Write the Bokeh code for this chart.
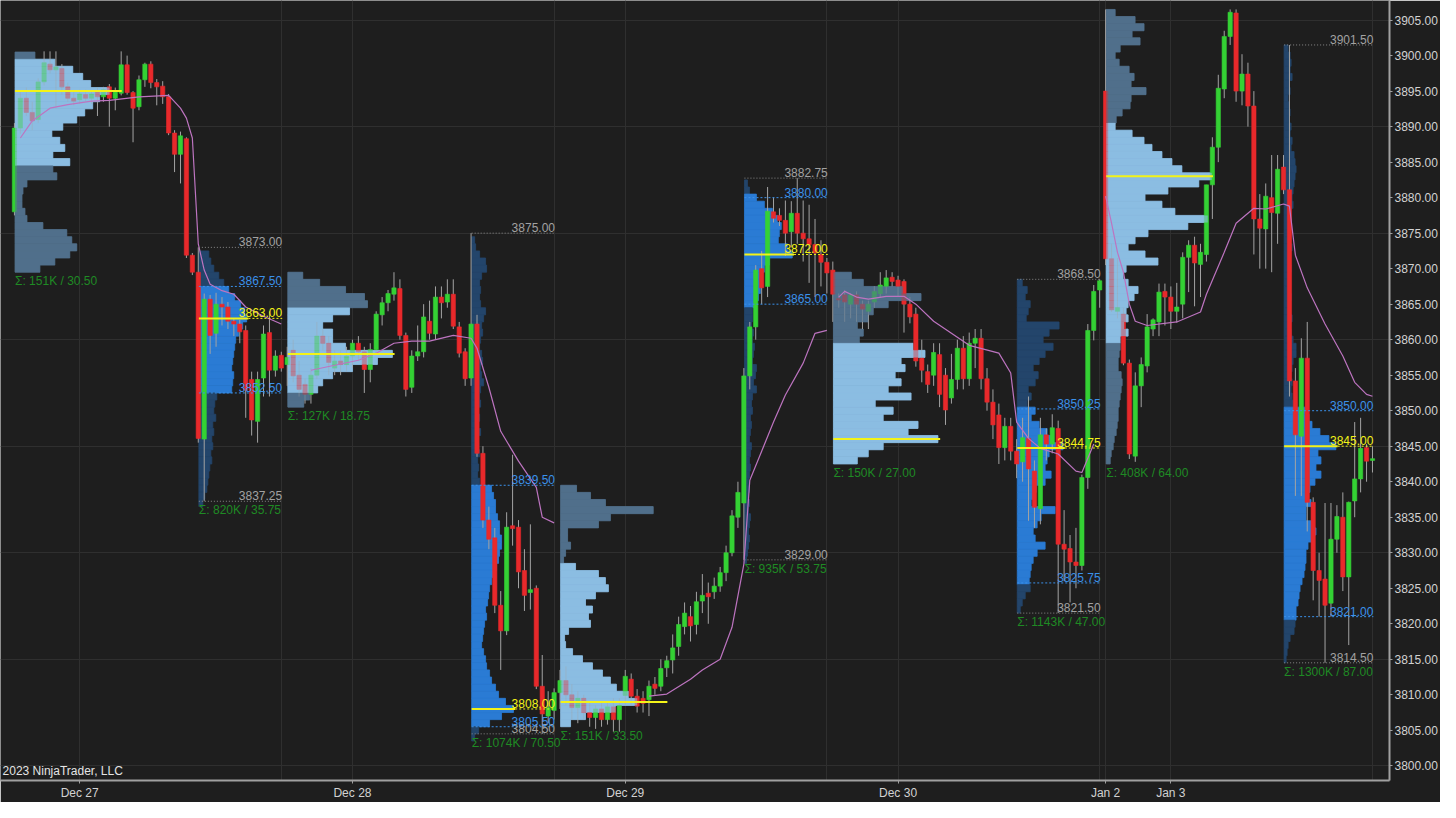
import numpy as np
from bokeh.plotting import figure
from bokeh.models import FixedTicker, SingleIntervalTicker, NumeralTickFormatter, Label, Range1d
from bokeh.core.properties import value
from bokeh.embed import file_html
from bokeh.resources import INLINE

FONT = "Liberation Sans"

# ---------------- candles (open, high, low, close), 30-minute bars ----------------
eth_dec27 = [
    (3878.0, 3890.5, 3877.5, 3889.8), (3889.8, 3895.0, 3889.0, 3894.0), (3894.0, 3895.5, 3891.5, 3892.0),
    (3892.0, 3893.5, 3889.5, 3890.8), (3891.0, 3896.8, 3890.5, 3896.3), (3896.3, 3900.6, 3895.8, 3899.0),
    (3898.8, 3900.6, 3897.5, 3898.0), (3898.0, 3900.6, 3892.6, 3898.4), (3898.2, 3898.8, 3894.5, 3895.6),
    (3895.6, 3896.2, 3893.5, 3894.0), (3894.0, 3895.0, 3893.0, 3893.6), (3893.8, 3895.2, 3893.2, 3894.6),
    (3894.5, 3895.2, 3893.6, 3894.0), (3894.0, 3895.0, 3893.2, 3894.6), (3895.0, 3895.5, 3891.5, 3894.2),
    (3894.2, 3895.6, 3893.5, 3895.2), (3895.6, 3896.0, 3890.0, 3894.0), (3894.0, 3895.5, 3892.3, 3895.0),
    (3894.7, 3900.6, 3894.4, 3898.7), (3898.7, 3900.0, 3894.5, 3894.8), (3894.8, 3895.0, 3887.8, 3892.6),
    (3892.8, 3897.2, 3892.3, 3896.6), (3896.6, 3899.0, 3895.6, 3898.8), (3898.8, 3899.2, 3895.4, 3896.2),
    (3896.2, 3896.7, 3893.0, 3895.6), (3895.7, 3896.4, 3893.2, 3894.2), (3894.2, 3894.6, 3888.8, 3889.1),
    (3889.1, 3889.5, 3883.6, 3886.1), (3886.1, 3889.3, 3882.0, 3888.7), (3888.3, 3888.5, 3871.5, 3871.9),
    (3871.9, 3872.2, 3869.1, 3869.5)]
rth_dec27 = [
    (3869.5, 3873.0, 3845.5, 3846.1), (3846.0, 3866.5, 3837.25, 3865.7), (3865.7, 3866.3, 3858.0, 3860.6),
    (3860.9, 3866.6, 3859.0, 3865.0), (3865.0, 3866.0, 3862.0, 3864.6), (3864.6, 3865.3, 3861.5, 3862.6),
    (3862.6, 3863.0, 3860.5, 3862.2), (3862.2, 3862.8, 3859.5, 3861.1), (3861.3, 3862.0, 3849.0, 3852.9),
    (3854.4, 3855.5, 3846.5, 3848.7), (3848.5, 3855.5, 3845.5, 3854.4), (3854.6, 3862.0, 3852.0, 3860.8),
    (3861.0, 3864.0, 3852.0, 3855.7), (3855.7, 3858.5, 3854.8, 3857.7), (3857.8, 3858.3, 3855.5, 3856.0)]
eth_dec28 = [
    (3856.5, 3859.0, 3853.5, 3857.5), (3858.5, 3860.0, 3854.0, 3854.9), (3855.0, 3857.0, 3852.0, 3853.0),
    (3853.7, 3854.5, 3851.0, 3852.3), (3852.3, 3856.0, 3851.0, 3855.0), (3855.0, 3862.5, 3854.5, 3860.5),
    (3860.5, 3861.5, 3858.5, 3859.5), (3859.5, 3860.5, 3855.0, 3856.8), (3856.0, 3858.5, 3855.0, 3857.0),
    (3857.0, 3858.5, 3855.0, 3856.5), (3856.5, 3859.0, 3855.5, 3857.7), (3857.7, 3860.0, 3856.0, 3859.5),
    (3859.5, 3860.5, 3857.0, 3858.3), (3858.3, 3859.0, 3852.5, 3855.8), (3855.8, 3859.5, 3854.0, 3858.6),
    (3858.6, 3864.0, 3858.0, 3863.6), (3863.5, 3866.0, 3862.0, 3865.2), (3865.2, 3867.0, 3864.0, 3866.5),
    (3866.4, 3869.5, 3865.5, 3867.3), (3867.2, 3868.5, 3860.0, 3860.6), (3860.6, 3861.0, 3852.0, 3853.0),
    (3853.3, 3858.5, 3852.5, 3857.7), (3857.7, 3862.0, 3857.0, 3858.3), (3858.3, 3865.0, 3857.5, 3863.2),
    (3862.6, 3865.5, 3860.0, 3860.9), (3860.8, 3867.5, 3860.0, 3866.0), (3866.0, 3867.5, 3863.0, 3865.2),
    (3865.3, 3868.5, 3864.5, 3866.4), (3866.4, 3868.5, 3861.5, 3861.9), (3861.8, 3862.5, 3857.5, 3858.1),
    (3858.3, 3858.8, 3853.5, 3854.5)]
rth_dec28 = [
    (3854.6, 3875.0, 3853.5, 3862.2), (3862.2, 3863.5, 3843.5, 3844.0), (3844.0, 3845.0, 3833.5, 3834.6),
    (3834.6, 3836.5, 3830.5, 3831.9), (3832.1, 3833.5, 3821.5, 3822.6), (3822.6, 3824.6, 3813.5, 3819.0),
    (3819.0, 3835.7, 3818.4, 3833.6), (3833.8, 3843.8, 3831.0, 3833.4), (3833.6, 3834.6, 3825.0, 3827.3),
    (3827.5, 3830.5, 3821.8, 3824.0), (3824.4, 3834.0, 3822.0, 3824.8), (3825.0, 3825.4, 3810.8, 3811.2),
    (3811.2, 3815.6, 3804.5, 3807.3), (3807.0, 3810.5, 3806.0, 3808.2), (3807.8, 3810.9, 3806.5, 3810.3)]
eth_dec29 = [
    (3810.3, 3813.5, 3808.0, 3812.0), (3812.0, 3814.0, 3808.5, 3810.0), (3810.0, 3811.5, 3806.5, 3808.2),
    (3808.2, 3810.5, 3806.0, 3809.5), (3809.5, 3810.0, 3806.5, 3807.5), (3807.5, 3809.0, 3805.5, 3806.8),
    (3806.8, 3808.5, 3805.2, 3808.0), (3808.0, 3809.0, 3805.5, 3806.5), (3806.5, 3809.0, 3805.8, 3808.3),
    (3808.3, 3809.5, 3804.8, 3806.5), (3806.5, 3809.5, 3804.8, 3808.5), (3809.9, 3813.5, 3808.5, 3812.6),
    (3812.2, 3813.0, 3808.5, 3809.8), (3809.8, 3810.8, 3807.5, 3808.4), (3809.5, 3810.5, 3807.5, 3808.8),
    (3809.3, 3812.0, 3807.0, 3811.2), (3811.5, 3812.5, 3810.0, 3810.9), (3811.2, 3815.0, 3810.5, 3813.7),
    (3813.8, 3815.5, 3812.5, 3814.8), (3814.9, 3818.5, 3813.0, 3816.6), (3816.8, 3821.0, 3815.5, 3819.9),
    (3819.6, 3823.0, 3818.5, 3821.5), (3821.0, 3822.5, 3817.5, 3819.7), (3819.9, 3824.5, 3818.5, 3823.1),
    (3823.2, 3827.0, 3821.5, 3824.0), (3824.3, 3825.8, 3820.0, 3823.8), (3824.5, 3826.5, 3823.5, 3825.3),
    (3825.3, 3828.0, 3824.5, 3827.2), (3827.2, 3831.0, 3826.0, 3830.0), (3830.0, 3836.0, 3829.5, 3835.2),
    (3835.0, 3840.0, 3833.5, 3838.5)]
rth_dec29 = [
    (3837.0, 3856.0, 3829.0, 3854.9), (3854.9, 3862.5, 3853.0, 3861.8), (3861.8, 3870.5, 3860.0, 3869.8),
    (3870.0, 3872.5, 3865.0, 3867.3), (3867.5, 3881.5, 3866.0, 3878.1), (3878.0, 3880.0, 3876.5, 3877.1),
    (3877.5, 3878.5, 3876.0, 3876.8), (3876.8, 3879.6, 3871.8, 3875.0), (3875.2, 3879.5, 3873.0, 3877.8),
    (3877.8, 3882.75, 3873.5, 3875.0), (3875.0, 3879.6, 3871.0, 3874.2), (3874.2, 3879.0, 3868.0, 3873.4),
    (3873.4, 3877.0, 3866.0, 3872.2), (3872.0, 3874.0, 3867.5, 3870.9), (3870.9, 3871.5, 3866.5, 3869.4)]
eth_dec30 = [
    (3869.8, 3871.0, 3862.5, 3866.4), (3865.8, 3866.5, 3864.5, 3865.6), (3866.3, 3867.0, 3862.5, 3865.3),
    (3865.0, 3866.5, 3863.0, 3866.3), (3866.3, 3866.8, 3862.5, 3865.0), (3865.0, 3865.5, 3861.5, 3864.3),
    (3864.0, 3865.5, 3861.5, 3865.0), (3865.3, 3867.5, 3864.5, 3866.8), (3866.5, 3869.5, 3866.0, 3867.7),
    (3867.5, 3869.8, 3866.5, 3868.7), (3868.8, 3869.5, 3867.5, 3868.2), (3868.4, 3869.0, 3866.0, 3867.5),
    (3868.2, 3868.5, 3861.0, 3865.0), (3865.0, 3866.0, 3862.3, 3863.2), (3863.6, 3864.5, 3856.2, 3857.0),
    (3857.4, 3860.0, 3854.0, 3855.7), (3855.5, 3856.5, 3852.5, 3853.7), (3855.0, 3859.5, 3853.5, 3858.2),
    (3857.9, 3859.5, 3850.5, 3852.3), (3855.0, 3856.0, 3848.0, 3850.1), (3851.8, 3858.0, 3851.0, 3854.4),
    (3854.4, 3860.0, 3853.0, 3858.8), (3858.8, 3860.5, 3853.0, 3854.5), (3854.5, 3861.0, 3853.5, 3859.5),
    (3859.5, 3861.5, 3856.0, 3860.2), (3860.2, 3861.5, 3853.0, 3854.5), (3854.5, 3856.0, 3850.0, 3851.2),
    (3851.2, 3853.0, 3846.0, 3848.0), (3849.4, 3851.0, 3842.5, 3844.8), (3844.8, 3849.0, 3843.0, 3847.8),
    (3847.8, 3849.0, 3843.0, 3844.3)]
rth_dec30 = [
    (3844.3, 3846.0, 3840.5, 3842.5), (3842.8, 3849.0, 3840.0, 3846.2), (3846.1, 3852.0, 3834.5, 3841.8),
    (3841.5, 3843.0, 3833.5, 3836.4), (3836.2, 3849.0, 3834.0, 3846.6), (3846.6, 3847.5, 3843.0, 3845.3),
    (3845.3, 3849.5, 3844.0, 3847.6), (3847.5, 3848.6, 3821.5, 3831.2), (3831.2, 3836.0, 3826.0, 3830.5),
    (3830.6, 3832.5, 3823.0, 3828.7), (3828.7, 3833.5, 3825.0, 3828.2), (3828.2, 3841.0, 3827.5, 3840.6),
    (3840.6, 3862.2, 3839.0, 3861.3), (3861.3, 3867.7, 3859.9, 3866.8), (3867.0, 3868.5, 3864.5, 3868.3)]
eth_jan03 = [
    (3895.0, 3906.5, 3870.5, 3871.4), (3871.4, 3873.5, 3863.9, 3864.2), (3864.0, 3871.5, 3863.0, 3864.5),
    (3863.6, 3864.5, 3856.4, 3856.7), (3856.7, 3857.2, 3843.2, 3843.9), (3843.6, 3855.4, 3842.8, 3853.5),
    (3853.5, 3857.5, 3850.5, 3856.5), (3856.3, 3863.6, 3855.4, 3861.8), (3861.5, 3863.0, 3860.5, 3862.8),
    (3862.5, 3867.9, 3860.5, 3866.7), (3866.8, 3867.9, 3862.0, 3866.0), (3866.0, 3867.5, 3861.5, 3864.0),
    (3864.0, 3868.0, 3862.4, 3864.6), (3865.0, 3872.3, 3863.0, 3871.6), (3871.6, 3874.0, 3866.7, 3873.3),
    (3873.3, 3874.5, 3864.7, 3870.8), (3870.6, 3873.5, 3866.0, 3872.3), (3872.0, 3881.8, 3871.0, 3881.8),
    (3881.8, 3888.5, 3877.0, 3887.1), (3887.1, 3897.3, 3885.0, 3895.4), (3895.3, 3903.5, 3894.0, 3902.7),
    (3902.7, 3906.5, 3901.5, 3906.1), (3906.0, 3906.5, 3893.5, 3895.0), (3895.0, 3900.2, 3893.0, 3897.4),
    (3897.4, 3899.0, 3890.0, 3892.9), (3892.9, 3895.0, 3872.0, 3877.0), (3877.0, 3880.5, 3870.0, 3875.7),
    (3875.6, 3882.0, 3870.0, 3880.2), (3880.0, 3886.0, 3869.5, 3877.9), (3877.8, 3886.0, 3873.5, 3884.0)]
rth_jan03 = [
    (3884.3, 3886.0, 3880.5, 3881.1), (3881.1, 3901.5, 3852.0, 3854.2), (3854.2, 3856.0, 3838.0, 3846.6),
    (3846.4, 3860.2, 3838.0, 3857.4), (3857.4, 3862.5, 3833.0, 3837.1), (3837.1, 3837.8, 3823.3, 3827.5),
    (3827.5, 3830.0, 3821.0, 3826.1), (3826.3, 3837.0, 3814.5, 3822.6), (3822.9, 3837.0, 3821.0, 3831.9),
    (3831.9, 3836.7, 3830.0, 3835.1), (3835.0, 3838.5, 3824.6, 3826.6), (3826.6, 3837.2, 3817.0, 3837.1),
    (3837.3, 3848.4, 3835.0, 3840.4), (3840.4, 3849.0, 3838.5, 3844.7), (3844.8, 3845.3, 3840.0, 3842.9),
    (3843.0, 3845.0, 3841.3, 3843.25)]

# ---------------- volume profiles: top price level, volumes from top down (1-pt rows) ----------------
prof_eth_dec27 = (3900, [20, 40, 58, 68, 76, 95, 85, 78, 70, 62, 48, 37, 45, 50, 38, 55, 38, 42, 12, 8, 7, 7, 10,
                         12, 28, 52, 57, 62, 55, 40, 25])
prof_rth_dec27 = (3872, [10, 12, 15, 20, 25, 30, 36, 42, 46, 48, 44, 40, 37, 36, 35, 34, 33, 35, 34, 33,
                         18, 16, 15, 17, 14, 15, 13, 14, 12, 13, 11, 10, 9, 8, 6, 4])
prof_eth_dec28 = (3869, [15, 32, 58, 77, 80, 62, 45, 35, 45, 45, 58, 105, 90, 65, 45, 35, 30, 22, 16])
prof_rth_dec28 = (3874, [3, 4, 8, 14, 15, 10, 8, 9, 8, 9, 14, 12, 10, 11, 9, 8, 10, 11, 9, 10, 12, 9, 8, 9, 7, 8,
                         7, 9, 6, 7, 8, 6, 7, 6, 8,
                         20, 22, 24, 24, 26, 28, 28, 30, 30, 28, 27, 25, 23, 20, 18, 17, 16, 14, 15, 13, 12, 11,
                         10, 12, 14, 15, 18, 20, 24, 27, 34, 42, 30, 18, 7, 3])
prof_eth_dec29 = (3839, [16, 30, 45, 93, 50, 38, 7, 7, 10, 5, 3, 15, 38, 45, 48, 35, 25, 32, 28, 30, 8, 4, 5, 12,
                         22, 32, 42, 50, 56, 68, 77, 55, 25, 10])
prof_rth_dec29 = (3882, [3, 5, 12, 20, 28, 33, 37, 35, 34, 43, 48, 25, 20, 18, 17, 16, 14, 12,
                         8, 8, 7, 9, 8, 10, 9, 8, 12, 11, 9, 12, 8, 7, 8, 6, 7, 6, 5, 7, 6, 5, 6, 5, 4, 5, 4, 5,
                         4, 6, 5, 4, 5, 4, 3, 2])
prof_eth_dec30 = (3869, [18, 30, 70, 88, 55, 40, 35, 24, 30, 26, 80, 92, 68, 72, 62, 68, 55, 78, 42, 60, 50, 85,
                         75, 105, 50, 35, 24])
prof_rth_dec30 = (3868, [5, 10, 8, 13, 11, 9, 42, 32, 26, 36, 28, 22, 16, 21, 18, 11, 14, 10,
                         18, 14, 22, 30, 36, 46, 32, 30, 28, 34, 28, 19, 16, 14, 38, 24, 20, 16, 18, 28, 20, 16,
                         14, 13, 12, 13, 8, 5, 3])
prof_eth_jan03 = (3906, [9, 29, 38, 26, 34, 14, 9, 13, 23, 28, 25, 40, 25, 24, 16, 10, 9,
                         26, 38, 46, 56, 66, 76, 106, 93, 62, 39, 56, 69, 102, 82, 42, 29, 22, 39, 52, 20, 17, 22,
                         32, 28, 22, 20, 22, 18, 22, 14,
                         14, 13, 12, 12, 15, 16, 15, 14, 13, 12, 12, 11, 10, 8, 7, 5, 4])
prof_rth_jan03 = (3901, [4, 6, 7, 6, 8, 5, 6, 4, 5, 6, 5, 7, 6, 8, 7, 10, 11, 12, 11, 10, 9, 8, 9, 7, 6, 7, 5, 6,
                         8, 6, 5, 7, 6, 5, 6, 7, 5, 6, 8, 6, 7, 9, 12, 12, 9, 8, 7, 8, 7, 8, 9,
                         24, 25, 28, 36, 45, 52, 34, 37, 32, 37, 31, 26, 24, 27, 22, 22, 30, 32, 28, 24, 22, 22,
                         21, 20, 18, 16, 15, 14, 12, 12,
                         11, 10, 6, 4, 3, 2])

# ETH value areas, point of control and statistics
eth_va = [(3885, 3899), (3853, 3864), (3806, 3828), (3843, 3859), (3860, 3890)]
eth_poc = [3895.0, 3858.0, 3809.0, 3846.0, 3883.0]
eth_volume = ["151K", "127K", "151K", "150K", "408K"]
eth_range = [30.50, 18.75, 33.50, 27.00, 64.00]

# RTH levels and statistics
rth_high = [3873.00, 3875.00, 3882.75, 3868.50, 3901.50]
rth_vah = [3867.50, 3839.50, 3880.00, 3850.25, 3850.00]
rth_poc = [3863.00, 3808.00, 3872.00, 3844.75, 3845.00]
rth_val = [3852.50, 3805.50, 3865.00, 3825.75, 3821.00]
rth_low = [3837.25, 3804.50, 3829.00, 3821.50, 3814.50]
rth_volume = ["820K", "1074K", "935K", "1143K", "1300K"]

# session VWAP-style line (bar index, price)
vwap_1 = [(1, 3888.4), (3, 3890.8), (6, 3892.6), (9, 3893.1), (13, 3893.6), (16, 3893.7), (21, 3894.2),
          (26, 3894.4), (28, 3892.6), (29, 3891.2), (30, 3888.4), (31, 3873.5), (32, 3869.8), (33, 3867.8),
          (35, 3866.9), (37, 3866.4), (39, 3864.6), (42, 3863.3), (45, 3862.2)]
vwap_2 = [(50, 3855.7), (54, 3856.4), (58, 3857.1), (61, 3858.1), (64, 3859.5), (67, 3859.8), (70, 3859.8),
          (74, 3860.6), (77, 3860.2), (78, 3858.8), (80, 3853.3), (82, 3847.1), (85, 3842.9), (88, 3839.2),
          (89, 3835.0), (91, 3834.2)]
vwap_3 = [(107, 3809.8), (110, 3810.1), (114, 3812.2), (116, 3813.5), (119, 3815.0), (121, 3819.5),
          (123, 3828.4), (124, 3840.2), (126, 3844.3), (128, 3848.4), (130, 3852.2), (133, 3856.7),
          (135, 3860.9), (137, 3861.3)]
vwap_4 = [(139, 3866.0), (140, 3866.8), (142, 3866.0), (144, 3865.7), (147, 3866.1), (150, 3866.1),
          (152, 3865.0), (155, 3862.6), (158, 3860.9), (161, 3859.2), (166, 3858.1), (168, 3855.3),
          (169, 3848.4), (171, 3846.1), (173, 3844.7), (176, 3843.9), (179, 3841.5), (180, 3841.3),
          (182, 3845.3)]
vwap_5 = [(184, 3880.2), (185, 3876.4), (186, 3872.3), (187, 3869.5), (188, 3865.0), (189, 3862.6),
          (191, 3862.0), (196, 3862.5), (200, 3863.9), (201, 3866.4), (204, 3872.3), (206, 3876.4),
          (209, 3878.5), (211, 3878.4), (214, 3879.1), (215, 3878.8), (216, 3871.9), (218, 3867.3),
          (221, 3862.2), (224, 3857.7), (226, 3854.0), (228, 3852.3), (229, 3852.04)]

date_tick_bars = [11, 57, 103, 149, 184, 195]
date_labels = ["Dec 27", "Dec 28", "Dec 29", "Dec 30", "Jan 2", "Jan 3"]

# ---------------- assemble ----------------
sessions = [eth_dec27, rth_dec27, eth_dec28, rth_dec28, eth_dec29, rth_dec29,
            eth_dec30, rth_dec30, eth_jan03, rth_jan03]
profiles = [prof_eth_dec27, prof_rth_dec27, prof_eth_dec28, prof_rth_dec28, prof_eth_dec29,
            prof_rth_dec29, prof_eth_dec30, prof_rth_dec30, prof_eth_jan03, prof_rth_jan03]
lens = np.array([len(s) for s in sessions])
starts = np.concatenate([[0], np.cumsum(lens)[:-1]])
lasts = starts + lens - 1

bars = np.array([b for s in sessions for b in s], dtype=float)
o, h, l, c = bars.T
xi = np.arange(len(bars))

BG = "#1e1e1e"
GREEN = "#34d134"
RED = "#e8292b"
WICK = "#a3a3a3"
ETH_IN, ETH_OUT = "#8bbde2", "#50708b"
RTH_IN, RTH_OUT = "#2a7bd4", "#23456b"
YEL = "#f3f318"
BLUE_T = "#3b91ea"
GRAY_T = "#a2a2a2"
GREEN_T = "#1f8a24"
VWAP_C = "#bd74c0"
VOL_SCALE = 1 / 5.956   # bar-widths per volume unit

p = figure(width=1440, height=802, x_range=Range1d(-2.35, 231.87), y_range=Range1d(3797.93, 3907.76),
           y_axis_location="right", output_backend="svg", toolbar_location=None,
           background_fill_color=BG, border_fill_color=BG,
           min_border_left=0, min_border_top=0, min_border_right=44, min_border_bottom=20)
p.outline_line_color = None

# axes
p.yaxis.ticker = SingleIntervalTicker(interval=5, num_minor_ticks=0)
p.yaxis.formatter = NumeralTickFormatter(format="0.00")
p.xaxis.ticker = FixedTicker(ticks=date_tick_bars)
p.xaxis.major_label_overrides = {t: s for t, s in zip(date_tick_bars, date_labels)}
for ax in (p.xaxis[0], p.yaxis[0]):
    ax.axis_line_color = "#a0a0a0"
    ax.axis_line_width = 2
    ax.major_tick_line_color = "#a0a0a0"
    ax.major_tick_out = 3
    ax.major_tick_in = 0
    ax.minor_tick_line_color = None
    ax.major_label_text_color = "#d2d2d2"
    ax.major_label_text_font = FONT
    ax.major_label_text_font_size = "12px"
    ax.major_label_standoff = 2

p.xgrid.ticker = FixedTicker(ticks=date_tick_bars + [int(v) for v in lasts[1::2]])
p.ygrid.ticker = FixedTicker(ticks=list(range(3800, 3906, 15)))
p.grid.grid_line_color = "#2f2f2f"
p.grid.grid_line_width = 1


def profile_rows(i, va_lo, va_hi, cin, cout):
    top, vols = profiles[i]
    vols = np.array(vols, dtype=float)
    prices = top - np.arange(len(vols))
    left = starts[i] + 0.1
    cols = [cin if va_lo <= pr <= va_hi else cout for pr in prices]
    return dict(left=np.full(len(vols), left), right=left + vols * VOL_SCALE,
                top=prices + 0.5, bottom=prices - 0.5, color=cols)


# RTH profiles (under candles)
for k in range(5):
    d = profile_rows(2 * k + 1, rth_val[k], rth_vah[k], RTH_IN, RTH_OUT)
    p.quad(left=d["left"], right=d["right"], top=d["top"], bottom=d["bottom"],
           fill_color=d["color"], line_color=d["color"], line_width=0.8)

# ETH profiles, solid base layer
eth_rows = [profile_rows(2 * k, eth_va[k][0], eth_va[k][1], ETH_IN, ETH_OUT) for k in range(5)]
for d in eth_rows:
    p.quad(left=d["left"], right=d["right"], top=d["top"], bottom=d["bottom"],
           fill_color=d["color"], line_color=d["color"], line_width=0.8)

# candles
p.segment(x0=xi, y0=h, x1=xi, y1=l, line_color=WICK, line_width=1)
up = c >= o
p.vbar(x=xi[up], width=0.72, top=c[up], bottom=o[up], fill_color=GREEN, line_color=GREEN, line_width=0.6)
p.vbar(x=xi[~up], width=0.72, top=o[~up], bottom=c[~up], fill_color=RED, line_color=RED, line_width=0.6)

# ETH profiles, translucent veil over the candles
for d in eth_rows:
    p.quad(left=d["left"], right=d["right"], top=d["top"], bottom=d["bottom"],
           fill_color=d["color"], fill_alpha=0.62, line_color=None)

# VWAP lines
for seg in (vwap_1, vwap_2, vwap_3, vwap_4, vwap_5):
    xs, ys = zip(*seg)
    p.line(list(xs), list(ys), line_color=VWAP_C, line_width=1.2)

# ETH POC lines & stats
for k in range(5):
    i = 2 * k
    top, vols = profiles[i]
    left = starts[i] + 0.1
    bottom = top - len(vols) + 0.5
    p.segment(x0=[left], y0=[eth_poc[k]], x1=[left + 18], y1=[eth_poc[k]], line_color=YEL, line_width=2)
    p.text(x=[left], y=[bottom], text=[f"Σ: {eth_volume[k]} / {eth_range[k]:.2f}"], text_color=GREEN_T,
           text_align="left", text_baseline="top", y_offset=2, text_font=value(FONT), text_font_size="12px")

# RTH levels
for k in range(5):
    i = 2 * k + 1
    top, vols = profiles[i]
    left = starts[i] + 0.1
    xend = lasts[i] + 0.15
    pocw = left + max(vols) * VOL_SCALE + 0.3
    p.segment(x0=[left, left], y0=[rth_high[k], rth_low[k]], x1=[xend, xend], y1=[rth_high[k], rth_low[k]],
              line_color="#8a8a8a", line_dash="1 2", line_width=1)
    p.segment(x0=[left, left], y0=[rth_vah[k], rth_val[k]], x1=[xend, xend], y1=[rth_vah[k], rth_val[k]],
              line_color=BLUE_T, line_dash="2 2", line_width=1)
    p.segment(x0=[pocw], y0=[rth_poc[k]], x1=[xend], y1=[rth_poc[k]], line_color=YEL, line_dash="2 2",
              line_width=1)
    p.segment(x0=[left], y0=[rth_poc[k]], x1=[pocw], y1=[rth_poc[k]], line_color=YEL, line_width=2)
    p.text(x=[xend, xend], y=[rth_high[k], rth_low[k]], text=[f"{rth_high[k]:.2f}", f"{rth_low[k]:.2f}"],
           text_color=GRAY_T, text_align="right", text_baseline="bottom", y_offset=-1,
           text_font=value(FONT), text_font_size="12px")
    p.text(x=[xend, xend], y=[rth_vah[k], rth_val[k]], text=[f"{rth_vah[k]:.2f}", f"{rth_val[k]:.2f}"],
           text_color=BLUE_T, text_align="right", text_baseline="bottom", y_offset=-1,
           text_font=value(FONT), text_font_size="12px")
    p.text(x=[xend], y=[rth_poc[k]], text=[f"{rth_poc[k]:.2f}"], text_color=YEL, text_align="right",
           text_baseline="bottom", y_offset=-1, text_font=value(FONT), text_font_size="12px")
    p.text(x=[left], y=[rth_low[k]], text=[f"Σ: {rth_volume[k]} / {rth_high[k] - rth_low[k]:.2f}"],
           text_color=GREEN_T, text_align="left", text_baseline="top", y_offset=2,
           text_font=value(FONT), text_font_size="12px")

# copyright text
p.add_layout(Label(x=-2.0, y=3799.3, text="2023 NinjaTrader, LLC", text_color="#e4e4e4",
                   text_font=FONT, text_font_size="12px", text_baseline="middle"))

# last-value markers on the price axis
for val in (vwap_5[-1][1], c[-1]):
    p.add_layout(Label(x=232.6, y=val, text=f"{val:.2f}", level="overlay",
                       text_color="#ffffff", text_font=FONT, text_font_size="12px", text_baseline="middle",
                       background_fill_color="#505050", background_fill_alpha=1.0,
                       border_line_color="#9a9a9a"))

open("out.html", "w").write(file_html(p, INLINE))
